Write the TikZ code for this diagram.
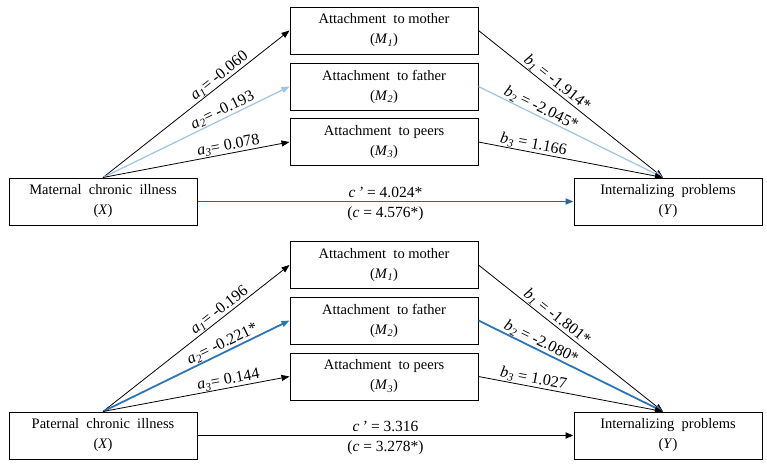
\documentclass[tikz,border=0pt]{standalone}
\usepackage{fontspec}
\setmainfont{Liberation Serif}
\usetikzlibrary{arrows.meta}
\definecolor{paleblue}{RGB}{157,195,230}
\definecolor{midblue}{RGB}{46,117,182}
\definecolor{deepblue}{RGB}{38,105,145}
\newcommand{\sub}[2]{\textit{#1}\textsubscript{\textit{#2}}}

\begin{document}
\begin{tikzpicture}[x=1pt,y=-1pt,font=\fontsize{14.5}{20}\selectfont]
        \tikzstyle{box}=[draw, line width=1pt, minimum width=188pt, minimum height=47pt, align=center, inner sep=2pt]
        \tikzstyle{path}=[line width=0.8pt, -{Triangle[length=8pt,width=6pt]}]
        \tikzstyle{lbl}=[sloped, above, inner sep=0.5pt, font=\fontsize{16}{18}\selectfont]
        \tikzstyle{clbl}=[font=\fontsize{15.5}{18}\selectfont, text=black]
        \useasboundingbox (0,0) rectangle (767,469);
        % maternal model
        \node[box] (x1) at (103,201.5) {Maternal \ chronic \ illness\\(\textit{X})};
        \node[box] (m11) at (384,30.5) {Attachment \ to mother\\(\sub{M}{1})};
        \node[box] (m12) at (384,86.5) {Attachment \ to father\\(\sub{M}{2})};
        \node[box] (m13) at (384,142) {Attachment \ to peers\\(\sub{M}{3})};
        \node[box] (y1) at (668,201.5) {Internalizing \ problems\\(\textit{Y})};
        \draw[path] (x1.north) -- node[lbl, pos=0.65] {\sub{a}{1}= -0.060} (m11.west);
        \draw[path, paleblue, line width=1.2pt] (x1.north) -- node[lbl, pos=0.66, text=black] {\sub{a}{2}= -0.193} (m12.west);
        \draw[path] (x1.north) -- node[lbl, pos=0.68] {\sub{a}{3}= 0.078} (m13.west);
        \draw[path] (m11.east) -- node[lbl, pos=0.4] {\sub{b}{1} = -1.914*} ([xshift=-5pt]y1.north);
        \draw[path, paleblue, line width=1.2pt] (m12.east) -- node[lbl, pos=0.32, text=black] {\sub{b}{2} = -2.045*} ([xshift=-5pt]y1.north);
        \draw[path] (m13.east) -- node[lbl, pos=0.29] {\sub{b}{3} = 1.166} ([xshift=-5pt]y1.north);
        \draw[path, deepblue, line width=1.8pt] (x1.east) -- node[clbl, above] {\textit{c\,'} = 4.024*} node[clbl, below, yshift=-1pt] {(\textit{c} = 4.576*)} (y1.west);
        % paternal model
        \node[box] (x2) at (103,435.5) {Paternal \ chronic \ illness\\(\textit{X})};
        \node[box] (m21) at (384,265) {Attachment \ to mother\\(\sub{M}{1})};
        \node[box] (m22) at (384,320.5) {Attachment \ to father\\(\sub{M}{2})};
        \node[box] (m23) at (384,376.5) {Attachment \ to peers\\(\sub{M}{3})};
        \node[box] (y2) at (668,435.5) {Internalizing \ problems\\(\textit{Y})};
        \draw[path] (x2.north) -- node[lbl, pos=0.65] {\sub{a}{1}= -0.196} (m21.west);
        \draw[path, midblue, line width=1.8pt] (x2.north) -- node[lbl, pos=0.66, text=black] {\sub{a}{2}= -0.221*} (m22.west);
        \draw[path] (x2.north) -- node[lbl, pos=0.68] {\sub{a}{3}= 0.144} (m23.west);
        \draw[path] (m21.east) -- node[lbl, pos=0.4] {\sub{b}{1} = -1.801*} ([xshift=-5pt]y2.north);
        \draw[path, midblue, line width=1.8pt] (m22.east) -- node[lbl, pos=0.32, text=black] {\sub{b}{2} = -2.080*} ([xshift=-5pt]y2.north);
        \draw[path] (m23.east) -- node[lbl, pos=0.29] {\sub{b}{3} = 1.027} ([xshift=-5pt]y2.north);
        \draw[path, line width=1.8pt] (x2.east) -- node[clbl, above] {\textit{c\,'} = 3.316} node[clbl, below, yshift=-1pt] {(\textit{c} = 3.278*)} (y2.west);
\end{tikzpicture}
\end{document}
